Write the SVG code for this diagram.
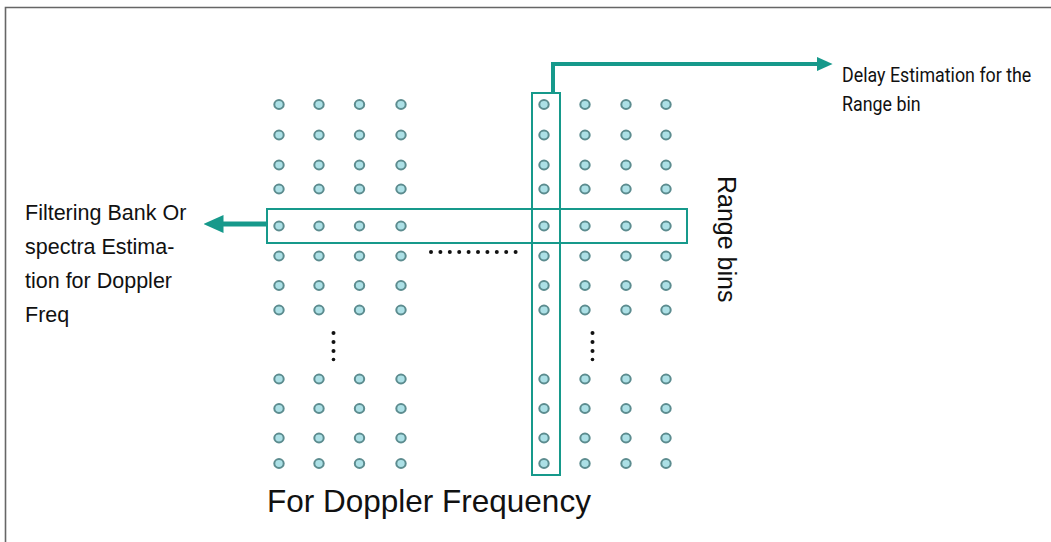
<svg xmlns="http://www.w3.org/2000/svg" width="1051" height="542" viewBox="0 0 1051 542">
<style>
.d{fill:#ace0e6;stroke:#5c8c8f;stroke-width:2}
.box{fill:none;stroke:#16998b;stroke-width:2}
.con{fill:none;stroke:#16998b}
.ell{fill:#111}
.lbl{font-family:"Liberation Sans",Arial,sans-serif;fill:#111}
.nar{font-family:Roboto,"Liberation Sans",sans-serif;fill:#111}
</style>
<defs>
<marker id="ah" markerWidth="4" markerHeight="3.6" refX="0.1" refY="1.8" orient="auto">
<path d="M0,0 L4,1.8 L0,3.6 z" fill="#16998b"/>
</marker>
<g id="dotrow">
<ellipse class="d" cx="279" cy="0" rx="4.7" ry="4.4"/><ellipse class="d" cx="319" cy="0" rx="4.7" ry="4.4"/><ellipse class="d" cx="359.5" cy="0" rx="4.7" ry="4.4"/><ellipse class="d" cx="401" cy="0" rx="4.7" ry="4.4"/>
<ellipse class="d" cx="544" cy="0" rx="4.7" ry="4.4"/><ellipse class="d" cx="585" cy="0" rx="4.7" ry="4.4"/><ellipse class="d" cx="626" cy="0" rx="4.7" ry="4.4"/><ellipse class="d" cx="666" cy="0" rx="4.7" ry="4.4"/>
</g>
</defs>
<rect width="1051" height="542" fill="#fff"/>
<path d="M5.5,542 V7.5 H1051" fill="none" stroke="#666" stroke-width="1.6"/>

<g id="grid">
<use href="#dotrow" y="104.5"/>
<use href="#dotrow" y="135"/>
<use href="#dotrow" y="165"/>
<use href="#dotrow" y="189"/>
<use href="#dotrow" y="226"/>
<use href="#dotrow" y="256"/>
<use href="#dotrow" y="285.5"/>
<use href="#dotrow" y="310"/>
<use href="#dotrow" y="379"/>
<use href="#dotrow" y="408.5"/>
<use href="#dotrow" y="438"/>
<use href="#dotrow" y="463.5"/>
<g class="ell">
<circle cx="431" cy="252" r="2"/><circle cx="440.4" cy="252" r="2"/><circle cx="449.8" cy="252" r="2"/><circle cx="459.2" cy="252" r="2"/><circle cx="468.6" cy="252" r="2"/><circle cx="478" cy="252" r="2"/><circle cx="487.4" cy="252" r="2"/><circle cx="496.8" cy="252" r="2"/><circle cx="506.2" cy="252" r="2"/><circle cx="515.6" cy="252" r="2"/>
<circle cx="333.5" cy="333" r="2"/><circle cx="333.5" cy="342" r="2"/><circle cx="333.5" cy="351" r="2"/><circle cx="333.5" cy="359.5" r="1.8"/>
<circle cx="592.5" cy="333" r="2"/><circle cx="592.5" cy="342" r="2"/><circle cx="592.5" cy="351" r="2"/><circle cx="592.5" cy="359.5" r="1.8"/>
</g>
</g>

<g id="rowbox"><rect class="box" x="267" y="209" width="420" height="34"/></g>
<g id="colbox"><rect class="box" x="532" y="93" width="28" height="382"/></g>

<g id="connectors">
<path class="con" d="M553,93 V64 H817" stroke-width="4" marker-end="url(#ah)"/>
<path class="con" d="M267,224 H223" stroke-width="5" marker-end="url(#ah)"/>
</g>

<g id="delay-label">
<text class="nar" font-size="21" transform="translate(842,82) scale(0.85,1)">Delay Estimation for the</text>
<text class="nar" font-size="21" transform="translate(842,111) scale(0.85,1)">Range bin</text>
</g>
<g id="filter-label">
<text class="lbl" font-size="21.5" x="25" y="220">Filtering Bank Or</text>
<text class="lbl" font-size="21.5" x="25" y="254">spectra Estima-</text>
<text class="lbl" font-size="21.5" x="25" y="288">tion for Doppler</text>
<text class="lbl" font-size="21.5" x="25" y="322">Freq</text>
</g>
<g id="range-label">
<text class="lbl" font-size="25" transform="translate(718,176) rotate(90)">Range bins</text>
</g>
<g id="doppler-label">
<text class="lbl" font-size="31.5" x="267" y="512">For Doppler Frequency</text>
</g>
</svg>
